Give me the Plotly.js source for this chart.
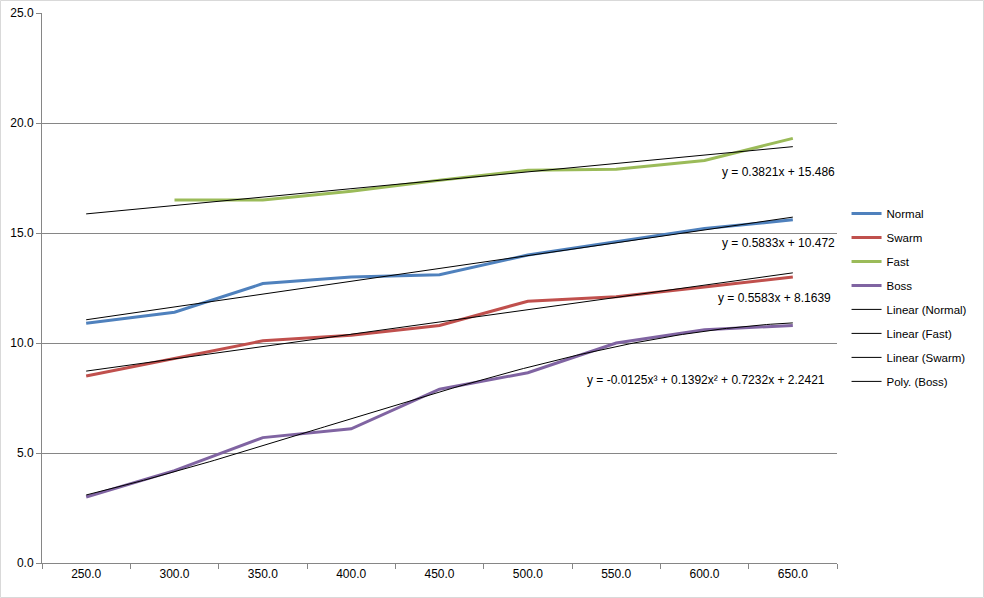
<!DOCTYPE html>
<html>
<head>
<meta charset="utf-8">
<script src="https://cdn.plot.ly/plotly-3.0.1.min.js"></script>
<style>html,body{margin:0;padding:0;background:#fff;}#chart{width:984px;height:598px;}</style>
</head>
<body>
<div id="chart"></div>
<script>
// Categories (x positions 1..9 as Excel does for line charts)
const categories = ["250.0","300.0","350.0","400.0","450.0","500.0","550.0","600.0","650.0"];
const xIndex = [1,2,3,4,5,6,7,8,9];

// Series values
const normal = [10.9, 11.4, 12.7, 13.0, 13.1, 14.0, 14.6, 15.2, 15.6];
const swarm  = [8.5, 9.3, 10.1, 10.35, 10.8, 11.9, 12.1, 12.55, 13.0];
const fast   = [null, 16.5, 16.5, 16.9, 17.4, 17.85, 17.9, 18.3, 19.3];
const boss   = [3.0, 4.2, 5.7, 6.1, 7.9, 8.65, 10.0, 10.6, 10.8];

// Trendline coefficients (highest power first), as shown in the chart labels
const trendNormal = [0.5833, 10.472];
const trendFast   = [0.3821, 15.486];
const trendSwarm  = [0.5583, 8.1639];
const trendBoss   = [-0.0125, 0.1392, 0.7232, 2.2421];

const yTicks = [0, 5, 10, 15, 20, 25];

const colors = {Normal:"#4F81BD", Swarm:"#C0504D", Fast:"#9BBB59", Boss:"#8064A2"};

function polyval(c, x){ let v = 0; for (const k of c) v = v*x + k; return v; }
function sampleX(n){ const a=[]; for(let i=0;i<=n;i++) a.push(1 + 8*i/n); return a; }

const fineX = sampleX(160);

function series(name, y, grp){
  return {type:"scatter", mode:"lines", name:name, x:xIndex, y:y,
    line:{color:colors[name], width:3}, legendgroup:grp, connectgaps:false};
}
function trend(name, coeffs, grp){
  const xs = coeffs.length > 2 ? fineX : xIndex;
  return {type:"scatter", mode:"lines", name:name, x:xs, y:xs.map(v=>polyval(coeffs,v)),
    line:{color:"#000000", width:1}, legendgroup:grp};
}

const data = [
  series("Normal", normal, "g1"),
  series("Swarm", swarm, "g2"),
  series("Fast", fast, "g3"),
  series("Boss", boss, "g4"),
  trend("Linear (Normal)", trendNormal, "g5"),
  trend("Linear (Fast)", trendFast, "g6"),
  trend("Linear (Swarm)", trendSwarm, "g7"),
  trend("Poly. (Boss)", trendBoss, "g8")
];

function fmt(n){ return (n<0?"- ":"+ ") + Math.abs(n); }
function linLabel(c){ return "y = " + c[0] + "x " + fmt(c[1]); }
const polyLabel = "y = " + trendBoss[0] + "x\u00B3 " + fmt(trendBoss[1]) + "x\u00B2 " + fmt(trendBoss[2]) + "x " + fmt(trendBoss[3]);

const font = {family:"Liberation Sans, Arial, sans-serif", size:12, color:"#000000"};
const legendFont = {family:"Liberation Sans, Arial, sans-serif", size:11.5, color:"#000000"};

const annotations = [
  {text:linLabel(trendFast), x:9.5, y:17.77},
  {text:linLabel(trendNormal), x:9.5, y:14.55},
  {text:linLabel(trendSwarm), x:9.46, y:12.05},
  {text:polyLabel, x:9.39, y:8.32}
].map(a => Object.assign({xref:"x", yref:"y", xanchor:"right", yanchor:"middle", showarrow:false, font:font}, a));

const layout = {
  width:984, height:598,
  margin:{l:42, r:147, t:13, b:35, pad:0, autoexpand:false},
  paper_bgcolor:"#ffffff", plot_bgcolor:"#ffffff",
  font:font,
  showlegend:true,
  legend:{x:1.012, xanchor:"left", y:0.662, yanchor:"top", traceorder:"grouped", tracegroupgap:5,
          font:legendFont, bgcolor:"rgba(0,0,0,0)", itemwidth:30},
  xaxis:{range:[0.5, 9.5], tickmode:"array", tickvals:xIndex, ticktext:categories,
         ticks:"", showgrid:false, zeroline:false, showline:true, linecolor:"#868686", linewidth:1,
         tickfont:font, fixedrange:true, automargin:false,
         minor:{tickmode:"linear", tick0:0.5, dtick:1, ticks:"outside", ticklen:5, tickcolor:"#868686", tickwidth:1, showgrid:false}},
  yaxis:{range:[0, 25], tickmode:"array", tickvals:yTicks, ticktext:yTicks.map(v=>v.toFixed(1)),
         ticks:"outside", ticklen:5, tickcolor:"#868686", showgrid:true, gridcolor:"#868686", gridwidth:1,
         zeroline:false, showline:true, linecolor:"#868686", linewidth:1, tickfont:font, fixedrange:true, automargin:false},
  annotations:annotations,
  shapes:[{type:"rect", xref:"paper", yref:"paper", x0:-0.0522, x1:1.1843, y0:-0.0627, y1:1.0227,
           line:{color:"#D9D9D9", width:1}, fillcolor:"rgba(0,0,0,0)", layer:"below"}]
};

Plotly.newPlot("chart", data, layout, {displayModeBar:false, staticPlot:true});
</script>
</body>
</html>
